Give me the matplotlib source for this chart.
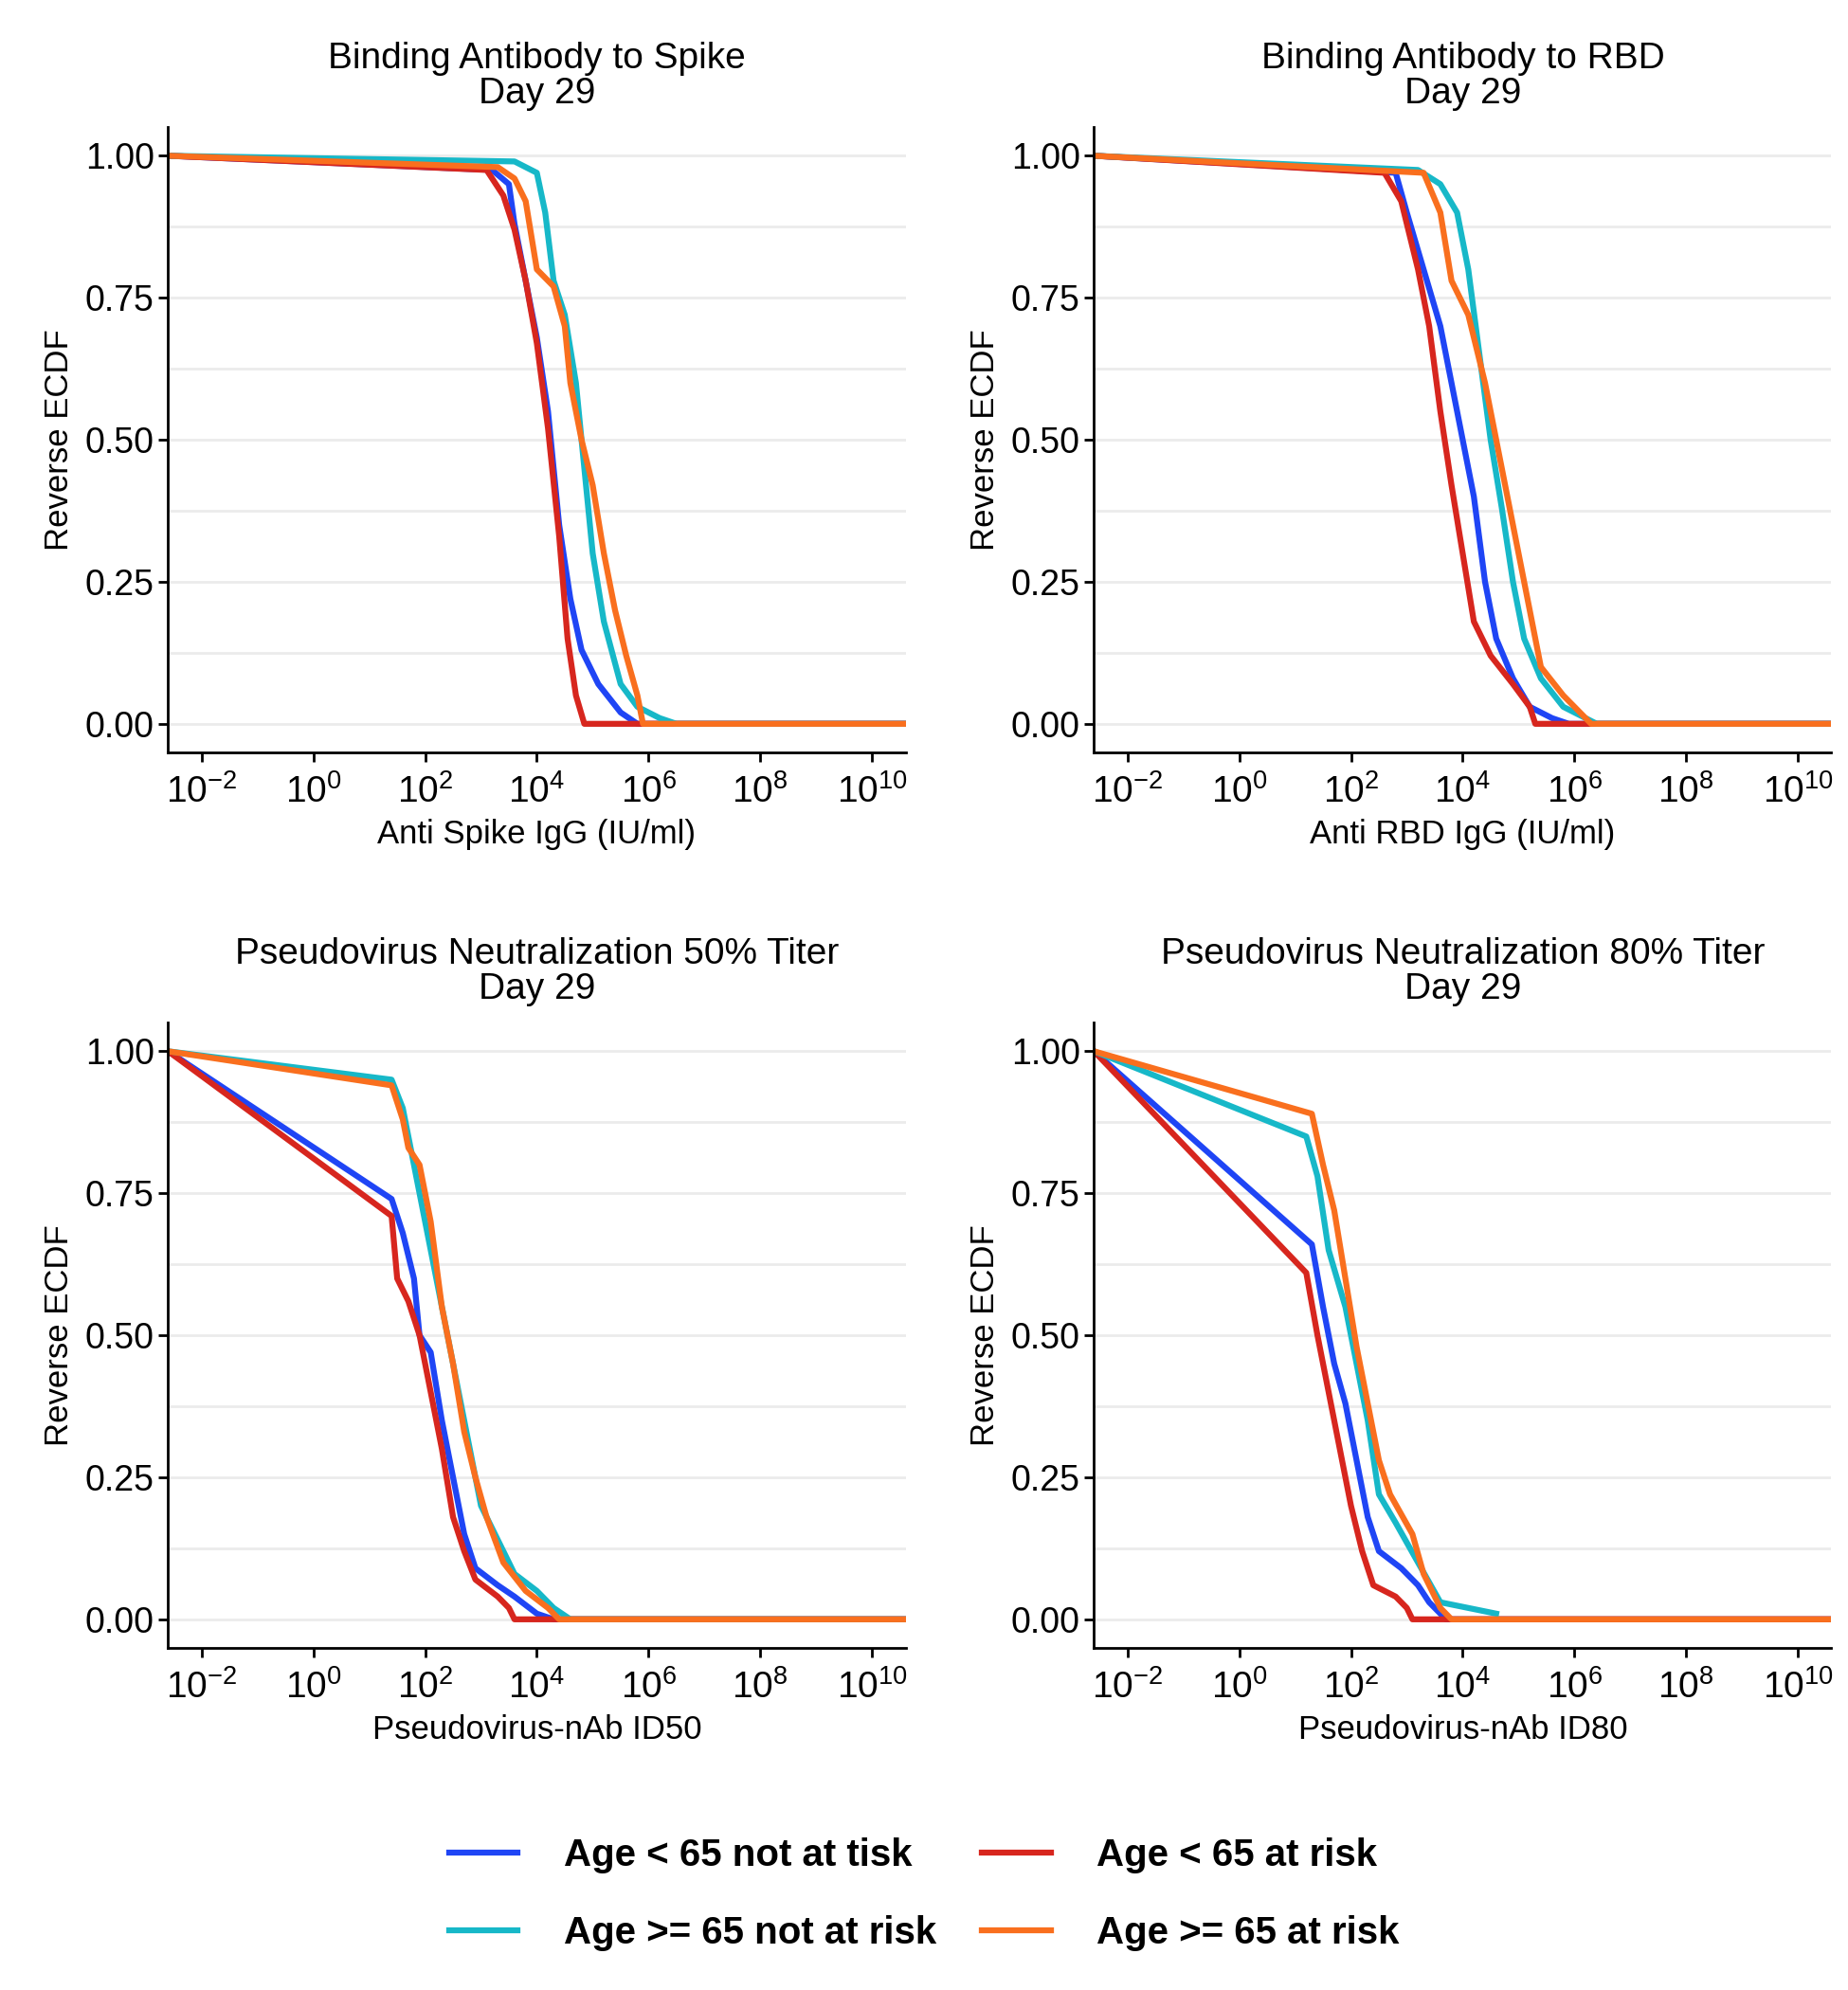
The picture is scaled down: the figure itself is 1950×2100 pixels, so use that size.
import numpy as np
import matplotlib.pyplot as plt
from matplotlib.ticker import FixedLocator, FuncFormatter

plt.rcParams['font.family'] = ['Liberation Sans', 'DejaVu Sans']
plt.rcParams['mathtext.default'] = 'regular'

# colours and labels
series_names = ['Age < 65 not at tisk', 'Age < 65 at risk',
                'Age >= 65 not at risk', 'Age >= 65 at risk']
series_colours = ['#1F45F5', '#D7261E', '#17B8C8', '#F96F1E']

titles = ['Binding Antibody to Spike\nDay 29', 'Binding Antibody to RBD\nDay 29',
          'Pseudovirus Neutralization 50% Titer\nDay 29',
          'Pseudovirus Neutralization 80% Titer\nDay 29']
xlabels = ['Anti Spike IgG (IU/ml)', 'Anti RBD IgG (IU/ml)',
           'Pseudovirus-nAb ID50', 'Pseudovirus-nAb ID80']

# curves: log10(x) and reverse ECDF
spike_logx = [
    [-2.6, 3.2, 3.5, 3.6, 3.8, 4.0, 4.2, 4.4, 4.6, 4.8, 5.1, 5.5, 5.8, 10.6],
    [-2.6, 3.1, 3.4, 3.6, 3.8, 4.0, 4.2, 4.4, 4.55, 4.7, 4.85, 10.6],
    [-2.6, 3.6, 4.0, 4.15, 4.3, 4.5, 4.7, 4.85, 5.0, 5.2, 5.5, 5.8, 6.2, 6.5, 10.6],
    [-2.6, 3.3, 3.6, 3.8, 4.0, 4.3, 4.5, 4.6, 4.8, 5.0, 5.2, 5.4, 5.6, 5.8, 5.9, 10.6],
]
spike_y = [
    [1, 0.975, 0.95, 0.88, 0.78, 0.68, 0.55, 0.35, 0.22, 0.13, 0.07, 0.02, 0, 0],
    [1, 0.975, 0.93, 0.87, 0.78, 0.67, 0.52, 0.33, 0.15, 0.05, 0, 0],
    [1, 0.99, 0.97, 0.9, 0.78, 0.72, 0.6, 0.45, 0.3, 0.18, 0.07, 0.03, 0.01, 0, 0],
    [1, 0.98, 0.96, 0.92, 0.8, 0.77, 0.7, 0.6, 0.5, 0.42, 0.3, 0.2, 0.12, 0.05, 0, 0],
]
rbd_logx = [
    [-2.6, 2.8, 3.0, 3.3, 3.6, 3.8, 4.0, 4.2, 4.4, 4.6, 4.9, 5.2, 5.6, 5.9, 10.6],
    [-2.6, 2.6, 2.9, 3.2, 3.4, 3.6, 3.8, 4.0, 4.2, 4.5, 4.9, 5.2, 5.3, 10.6],
    [-2.6, 3.2, 3.6, 3.9, 4.1, 4.3, 4.5, 4.7, 4.9, 5.1, 5.4, 5.8, 6.2, 6.4, 10.6],
    [-2.6, 3.3, 3.6, 3.8, 4.1, 4.4, 4.6, 4.8, 5.0, 5.2, 5.4, 5.8, 6.1, 6.3, 10.6],
]
rbd_y = [
    [1, 0.97, 0.9, 0.8, 0.7, 0.6, 0.5, 0.4, 0.25, 0.15, 0.08, 0.03, 0.01, 0, 0],
    [1, 0.97, 0.92, 0.8, 0.7, 0.55, 0.42, 0.3, 0.18, 0.12, 0.07, 0.03, 0, 0],
    [1, 0.975, 0.95, 0.9, 0.8, 0.65, 0.5, 0.38, 0.25, 0.15, 0.08, 0.03, 0.01, 0, 0],
    [1, 0.97, 0.9, 0.78, 0.72, 0.6, 0.5, 0.4, 0.3, 0.2, 0.1, 0.05, 0.02, 0, 0],
]
id50_logx = [
    [-2.6, 1.4, 1.6, 1.8, 1.9, 2.1, 2.3, 2.5, 2.7, 2.9, 3.3, 3.6, 4.0, 4.3, 10.6],
    [-2.6, 1.4, 1.5, 1.7, 1.9, 2.1, 2.3, 2.5, 2.7, 2.9, 3.3, 3.5, 3.6, 10.6],
    [-2.6, 1.4, 1.6, 1.8, 2.0, 2.2, 2.4, 2.6, 2.8, 3.0, 3.3, 3.6, 4.0, 4.3, 4.6, 10.6],
    [-2.6, 1.4, 1.6, 1.7, 1.9, 2.1, 2.3, 2.5, 2.7, 2.9, 3.1, 3.4, 3.8, 4.2, 4.4, 10.6],
]
id50_y = [
    [1, 0.74, 0.68, 0.6, 0.5, 0.47, 0.35, 0.25, 0.15, 0.09, 0.06, 0.04, 0.01, 0, 0],
    [1, 0.71, 0.6, 0.56, 0.5, 0.4, 0.3, 0.18, 0.12, 0.07, 0.04, 0.02, 0, 0],
    [1, 0.95, 0.9, 0.8, 0.7, 0.6, 0.5, 0.4, 0.3, 0.2, 0.14, 0.08, 0.05, 0.02, 0, 0],
    [1, 0.94, 0.88, 0.83, 0.8, 0.7, 0.55, 0.45, 0.33, 0.25, 0.18, 0.1, 0.05, 0.02, 0, 0],
]
id80_logx = [
    [-2.6, 1.3, 1.5, 1.7, 1.9, 2.1, 2.3, 2.5, 2.9, 3.2, 3.4, 3.6, 3.7, 10.6],
    [-2.6, 1.2, 1.4, 1.6, 1.8, 2.0, 2.2, 2.4, 2.8, 3.0, 3.1, 10.6],
    [-2.6, 1.2, 1.4, 1.6, 1.9, 2.1, 2.3, 2.5, 2.8, 3.2, 3.6, 4.1, 4.6],
    [-2.6, 1.3, 1.5, 1.7, 1.9, 2.1, 2.3, 2.5, 2.7, 3.1, 3.3, 3.6, 3.8, 10.6],
]
id80_y = [
    [1, 0.66, 0.55, 0.45, 0.38, 0.28, 0.18, 0.12, 0.09, 0.06, 0.03, 0.01, 0, 0],
    [1, 0.61, 0.5, 0.4, 0.3, 0.2, 0.12, 0.06, 0.04, 0.02, 0, 0],
    [1, 0.85, 0.78, 0.65, 0.55, 0.45, 0.35, 0.22, 0.17, 0.1, 0.03, 0.02, 0.01],
    [1, 0.89, 0.8, 0.72, 0.6, 0.48, 0.38, 0.28, 0.22, 0.15, 0.08, 0.02, 0, 0],
]

panels = [(spike_logx, spike_y), (rbd_logx, rbd_y), (id50_logx, id50_y), (id80_logx, id80_y)]

fig = plt.figure(figsize=(19.5, 21), dpi=100)
positions = [[0.091, 0.622, 0.399, 0.314], [0.592, 0.622, 0.399, 0.314],
             [0.091, 0.172, 0.399, 0.314], [0.592, 0.172, 0.399, 0.314]]

handles = []
for i, (logxs, ys) in enumerate(panels):
    ax = fig.add_axes(positions[i])
    for y in [0.125, 0.375, 0.625, 0.875, 0, 0.25, 0.5, 0.75, 1.0]:
        ax.axhline(y, color='#EBEBEB', linewidth=2, zorder=0)
    for k in range(4):
        line, = ax.plot(10 ** np.array(logxs[k]), ys[k], color=series_colours[k],
                        linewidth=4.5, label=series_names[k])
        if i == 0:
            handles.append(line)
    ax.set_xscale('log')
    ax.set_xlim(10 ** -2.6, 10 ** 10.6)
    ax.set_ylim(-0.05, 1.05)
    ax.xaxis.set_major_locator(FixedLocator([10.0 ** e for e in range(-2, 11, 2)]))
    ax.xaxis.set_minor_locator(FixedLocator([]))
    ax.xaxis.set_major_formatter(FuncFormatter(lambda v, p: r'$10^{%d}$' % round(np.log10(v))))
    ax.set_yticks([0, 0.25, 0.5, 0.75, 1.0])
    ax.set_yticklabels(['0.00', '0.25', '0.50', '0.75', '1.00'])
    ax.tick_params(axis='y', labelsize=27, length=7, width=2, colors='black')
    ax.tick_params(axis='x', labelsize=28, length=7, width=2, colors='black', pad=10)
    for s in ['top', 'right']:
        ax.spines[s].set_visible(False)
    for s in ['left', 'bottom']:
        ax.spines[s].set_linewidth(2)
    ax.set_title(titles[i], fontsize=28, linespacing=1.05, pad=18)
    ax.set_xlabel(xlabels[i], fontsize=25, labelpad=6)
    ax.set_ylabel('Reverse ECDF', fontsize=25, labelpad=8)

# column-major fill: blue/red on top row, cyan/orange on bottom row
order = [handles[0], handles[2], handles[1], handles[3]]
fig.legend(handles=order, loc='center', bbox_to_anchor=(0.5, 0.048), ncol=2,
           frameon=False, prop={'size': 29, 'weight': 'bold'},
           handlelength=1.8, columnspacing=1.2, labelspacing=1.1, handletextpad=1.2)

fig.savefig('out.png', dpi=100, facecolor='white')
